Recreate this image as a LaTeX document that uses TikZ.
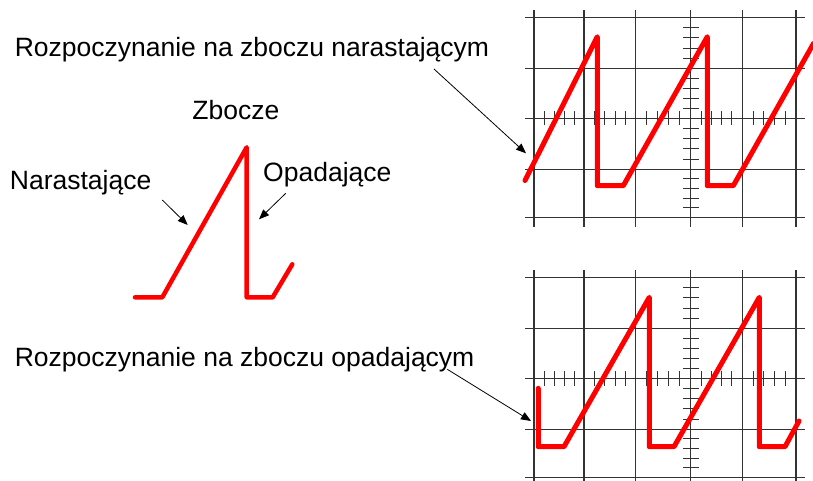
\documentclass[tikz,border=0pt]{standalone}
\usepackage{fontspec}
\setmainfont{Liberation Sans}
\usetikzlibrary{arrows.meta}
\newcommand\drawscopegrid[1]{%
  \foreach \yy in {17.3,68.7,118.3,169.3,217.3} \draw[gridline] (525,\yy) -- (805,\yy);
  \foreach \xx in {534,584,635.7,690.7,742.3,796} \draw[gridline] (\xx,10) -- (\xx,#1);
  \foreach \a/\b in {534/584,584/635.7,635.7/690.7,690.7/742.3,742.3/796}
    \foreach \k in {1,2,3,4} \draw[tickline] ({\a+(\b-\a)*\k/5},111.1) -- ({\a+(\b-\a)*\k/5},125.5);
  \foreach \a/\b in {17.3/68.7,68.7/118.3,118.3/169.3,169.3/217.3}
    \foreach \k in {1,2,3,4} \draw[tickline] (682.9,{\a+(\b-\a)*\k/5}) -- (698.5,{\a+(\b-\a)*\k/5});
}
\begin{document}
\begin{tikzpicture}[x=1pt,y=-1pt,
  lbl/.style={inner sep=0pt, anchor=base west, font=\fontsize{26.5}{30}\selectfont},
  gridline/.style={draw=black!80, line width=1.1pt},
  tickline/.style={draw=black!80, line width=1pt},
  trace/.style={draw=red, line width=5pt, line join=round, line cap=round},
  ptr/.style={draw=black, line width=0.8pt, -{Triangle[length=10pt,width=8pt]}}]
\useasboundingbox (0,0) rectangle (813,481);

% scope grids
\begin{scope}
  \drawscopegrid{227}
\end{scope}
\begin{scope}[shift={(0,260)}]
  \drawscopegrid{221}
\end{scope}

% traces
\draw[trace] (525,180.5) -- (597.3,36.7) -- (597.3,185.7) -- (623.3,185.7) -- (707.3,36.7)
  -- (707.3,185.7) -- (733.3,185.7) -- (813.5,43.5);
\draw[trace] (538.3,388.3) -- (538.3,446.7) -- (564,446.7) -- (649.3,297.3) -- (649.3,446.7)
  -- (674,446.7) -- (759.3,297.3) -- (759.3,446.7) -- (785,446.7) -- (799,421);
\draw[trace, line width=4.5pt] (135,297.3) -- (162.3,297.3) -- (246.7,147.3) -- (246.7,297.3)
  -- (272.7,297.3) -- (292.3,264.3);

% labels
\node[lbl] (t1) at (14.6,56.7) {Rozpoczynanie na zboczu narastającym};
\node[lbl] (t2) at (14.6,366.7) {Rozpoczynanie na zboczu opadającym};
\node[lbl] (zb) at (192.2,119.3) {Zbocze};
\node[lbl] (nar) at (9.7,189.3) {Narastające};
\node[lbl] (opa) at (263,181.7) {Opadające};

% arrow ends
\coordinate (a1s) at (434,69);
\coordinate (a1e) at (526,153.3);
\coordinate (a2s) at (447.3,369.3);
\coordinate (a2e) at (531,421);
\coordinate (a3s) at (162.3,200);
\coordinate (a3e) at (187.7,225);
\coordinate (a4s) at (285.7,193.3);
\coordinate (a4e) at (259,219.3);
\draw[ptr] (a1s) -- (a1e);
\draw[ptr] (a2s) -- (a2e);
\draw[ptr] (a3s) -- (a3e);
\draw[ptr] (a4s) -- (a4e);
\end{tikzpicture}
\end{document}
